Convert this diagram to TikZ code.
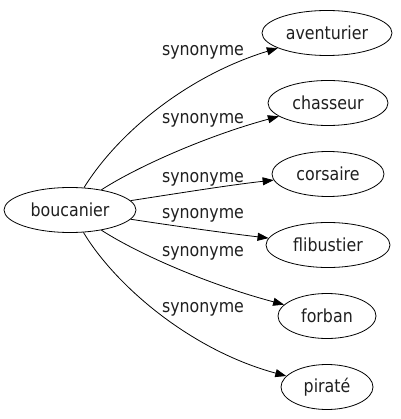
\documentclass[tikz,border=0pt]{standalone}
\usepackage{fontspec}
\setmainfont{DejaVu Sans}[FakeStretch=0.88]
\usetikzlibrary{shapes.geometric,arrows.meta}
\tikzset{
  word/.style={ellipse,draw=black,line width=0.8pt,inner sep=0pt,minimum height=45pt,text=black!88,font=\fontsize{18}{20}\selectfont},
  rel/.style={text=black!88,font=\fontsize{18}{20}\selectfont,inner sep=0pt},
  link/.style={draw=black,line width=0.8pt,-{Triangle[length=11pt,width=8pt]}}
}
\begin{document}
\begin{tikzpicture}[x=1pt,y=-1pt]
\useasboundingbox (0,0) rectangle (400,419);
\node[word,minimum width=132pt] (b) at (70,210) {boucanier};
\node[word,minimum width=130pt] (t1) at (327,33) {aventurier};
\node[word,minimum width=120pt] (t2) at (328,103) {chasseur};
\node[word,minimum width=112pt] (t3) at (328,174) {corsaire};
\node[word,minimum width=124pt] (t4) at (328,245) {flibustier};
\node[word,minimum width=98pt] (t5) at (327,316) {forban};
\node[word,minimum width=92pt] (t6) at (327,387) {piraté};
\node[rel] (l1) at (203,52) {synonyme};
\node[rel] (l2) at (203,120) {synonyme};
\node[rel] (l3) at (203,179) {synonyme};
\node[rel] (l4) at (203,215) {synonyme};
\node[rel] (l5) at (203,253) {synonyme};
\node[rel] (l6) at (203,309) {synonyme};
\draw[link] (b) .. controls (120,130) and (190,75) .. (t1);
\draw[link] (b) .. controls (140,165) and (210,135) .. (t2);
\draw[link] (b) .. controls (180,193) and (230,185) .. (t3);
\draw[link] (b) .. controls (175,226) and (225,233) .. (t4);
\draw[link] (b) .. controls (140,255) and (210,285) .. (t5);
\draw[link] (b) .. controls (115,285) and (190,350) .. (t6);
\end{tikzpicture}
\end{document}
